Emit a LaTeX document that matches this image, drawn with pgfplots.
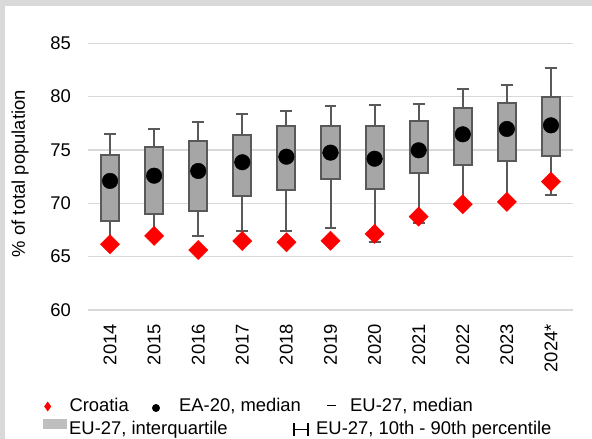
\documentclass[border=0pt]{standalone}
\usepackage{fontspec}
\setmainfont{Liberation Sans}
\usepackage{pgfplots}
\pgfplotsset{compat=1.18}
\usepgfplotslibrary{statistics}
\definecolor{boxfill}{HTML}{A6A6A6}
\definecolor{boxline}{HTML}{595959}
\definecolor{gridc}{HTML}{D9D9D9}
\definecolor{framec}{HTML}{D9D9D9}
\definecolor{legbox}{HTML}{BFBFBF}
\newcommand{\fs}{\fontsize{18.4}{22}\selectfont}
\newcommand{\bp}[6]{\addplot[boxplot prepared={draw position=#1, lower whisker=#2, lower quartile=#3, median=#4, upper quartile=#5, upper whisker=#6}] coordinates {};}
\begin{document}
\begin{tikzpicture}
\fill[framec] (0,0) rectangle (592pt,439pt);
\fill[white] (5pt,0) rectangle (592pt,433pt);
\path[use as bounding box] (0,0) rectangle (592pt,439pt);
\begin{axis}[
  width=485pt, height=266.7pt, scale only axis,
  at={(88pt,129pt)}, anchor=south west,
  xmin=-0.5, xmax=10.5, ymin=60, ymax=85,
  ytick={60,65,...,85}, xtick={0,...,10},
  xticklabels={2014,2015,2016,2017,2018,2019,2020,2021,2022,2023,2024*},
  axis line style={draw=none}, major tick length=0pt,
  ymajorgrids, grid style={gridc, line width=1.5pt},
  tick label style={font=\fs, text=black},
  /pgf/number format/assume math mode=true,
  yticklabel style={anchor=east, inner sep=0pt, xshift=-17pt},
  xticklabel style={yshift=-14pt, rotate=90, anchor=east, inner sep=0pt},
  ylabel={\% of total population},
  every axis y label/.style={at={(axis description cs:0,0.5)}, xshift=-68pt, yshift=3pt, rotate=90, anchor=center, inner sep=0pt, font=\fs},
  clip=false,
  boxplot/draw direction=y,
  boxplot/box extend=0.41, boxplot/whisker extend=0.27,
  boxplot/every box/.style={fill=boxfill, draw=boxline, line width=2pt},
  boxplot/every whisker/.style={draw=boxline, line width=2pt},
  boxplot/every median/.style={draw=boxline, line width=2pt},
]
\bp{0}{66.3}{68.35}{72.1}{74.53}{76.53}
\bp{1}{67.0}{69.03}{72.59}{75.28}{76.94}
\bp{2}{66.91}{69.31}{73.03}{75.84}{77.65}
\bp{3}{67.41}{70.69}{73.85}{76.37}{78.4}
\bp{4}{67.44}{71.22}{74.37}{77.22}{78.65}
\bp{5}{67.69}{72.28}{74.75}{77.28}{79.12}
\bp{6}{66.41}{71.37}{74.18}{77.28}{79.25}
\bp{7}{68.19}{72.87}{74.97}{77.69}{79.28}
\bp{8}{70.0}{73.57}{76.47}{78.94}{80.72}
\bp{9}{70.2}{73.97}{76.97}{79.4}{81.09}
\bp{10}{70.78}{74.4}{77.31}{80.0}{82.71}
\addplot[red, only marks, mark=square*, mark size=6.8pt, mark options={rotate=45, fill=red, draw=red}] coordinates {
(0,66.16) (1,66.94) (2,65.63) (3,66.47) (4,66.35) (5,66.5) (6,67.13) (7,68.75) (8,69.91) (9,70.13) (10,72.03)};
\addplot[black, only marks, mark=*, mark size=7.8pt, mark options={fill=black, draw=black}] coordinates {
(0,72.1) (1,72.59) (2,73.03) (3,73.85) (4,74.37) (5,74.75) (6,74.18) (7,74.97) (8,76.47) (9,76.97) (10,77.31)};
\end{axis}
% legend
\fill[red] (47.7pt,37.5pt) -- (51.2pt,32.5pt) -- (47.7pt,27.5pt) -- (44.2pt,32.5pt) -- cycle;
\node[anchor=base west, inner sep=0pt, font=\fs] at (69.3pt,27.3pt) {Croatia};
\fill[black] (156pt,31pt) circle (4pt);
\node[anchor=base west, inner sep=0pt, font=\fs] at (179pt,27.3pt) {EA-20, median};
\draw[black, line width=1.5pt] (327pt,33.3pt) -- (336pt,33.3pt);
\node[anchor=base west, inner sep=0pt, font=\fs] at (350pt,27.3pt) {EU-27, median};
\fill[legbox] (43pt,10pt) rectangle (66.7pt,20pt);
\node[anchor=base west, inner sep=0pt, font=\fs] at (69pt,4pt) {EU-27, interquartile};
\draw[black, line width=1.2pt] (294pt,3pt) -- (294pt,16pt) (294pt,9.5pt) -- (308pt,9.5pt) (308pt,3pt) -- (308pt,16pt);
\node[anchor=base west, inner sep=0pt, font=\fs] at (316pt,4pt) {EU-27, 10th - 90th percentile};
\end{tikzpicture}
\end{document}
